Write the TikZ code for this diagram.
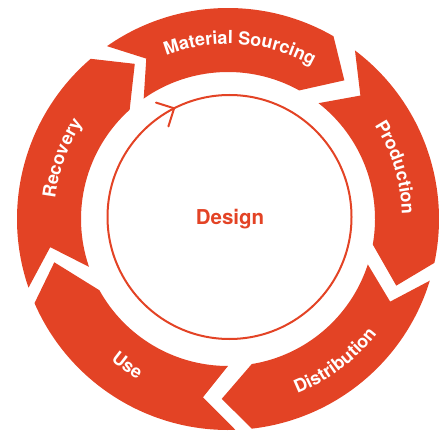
\documentclass[tikz,border=0pt]{standalone}
\usepackage{fontspec}
\setmainfont{TeX Gyre Heros}
\usetikzlibrary{decorations.text}
\definecolor{brand}{RGB}{227,67,37}
\begin{document}
\begin{tikzpicture}[x=1pt,y=1pt,
  seg/.style={fill=brand},
  lbl/.style={decorate, decoration={text along path, text align=center, text color=white,
     text={|\fontsize{18}{20}\selectfont\bfseries|#1}}}]
\useasboundingbox (0,0) rectangle (439,437);
\begin{scope}[shift={(228,218)}]
% Material Sourcing
\fill[seg] (125:211) arc[start angle=125,end angle=60,radius=211] -- (50:181) -- (61:147)
  arc[start angle=61,end angle=125,radius=147] -- (117:180) -- cycle;
% Production
\fill[seg] (53:211) arc[start angle=53,end angle=-12,radius=211] -- (-21.6:181) -- (-10:147)
  arc[start angle=-10,end angle=52,radius=147] -- (43:181) -- cycle;
% Distribution
\fill[seg] (-17:211) arc[start angle=-17,end angle=-83.5,radius=211] -- (-92:180) -- (-80.7:147)
  arc[start angle=-80.7,end angle=-18,radius=147] -- (-27:182) -- cycle;
% Use
\fill[seg] (272:211) arc[start angle=272,end angle=203.5,radius=211] -- (194:179) -- (209:147)
  arc[start angle=209,end angle=270,radius=147] -- (262:180) -- cycle;
% Recovery
\fill[seg] (199:211) arc[start angle=199,end angle=130.6,radius=211] -- (121:181) -- (132:147)
  arc[start angle=132,end angle=199,radius=147] -- (189:180) -- cycle;
% labels
\path[lbl=Material Sourcing] (126:175) arc[start angle=126,end angle=46,radius=175];
\path[lbl=Production] (52:174) arc[start angle=52,end angle=-18,radius=174];
\path[lbl=Distribution] (-88:188) arc[start angle=-88,end angle=-18,radius=188];
\path[lbl=Use] (-160:184) arc[start angle=-160,end angle=-89,radius=184];
\path[lbl=Recovery] (195:174) arc[start angle=195,end angle=125,radius=174];
\end{scope}
\node[circle, draw=brand, line width=2pt, minimum size=244pt, inner sep=0pt, outer sep=0pt] (design) at (229.5,220) {};
\node[anchor=base, text=brand, font=\fontsize{20.5}{22}\selectfont\bfseries, inner sep=0pt] (designlabel) at (230,212) {Design};
\draw[brand, line width=2pt, line cap=round, line join=miter] (design.117.6) ++(-18.1,5.7) -- (design.117.6) -- ++(-5.7,-18.1);
\end{tikzpicture}
\end{document}
